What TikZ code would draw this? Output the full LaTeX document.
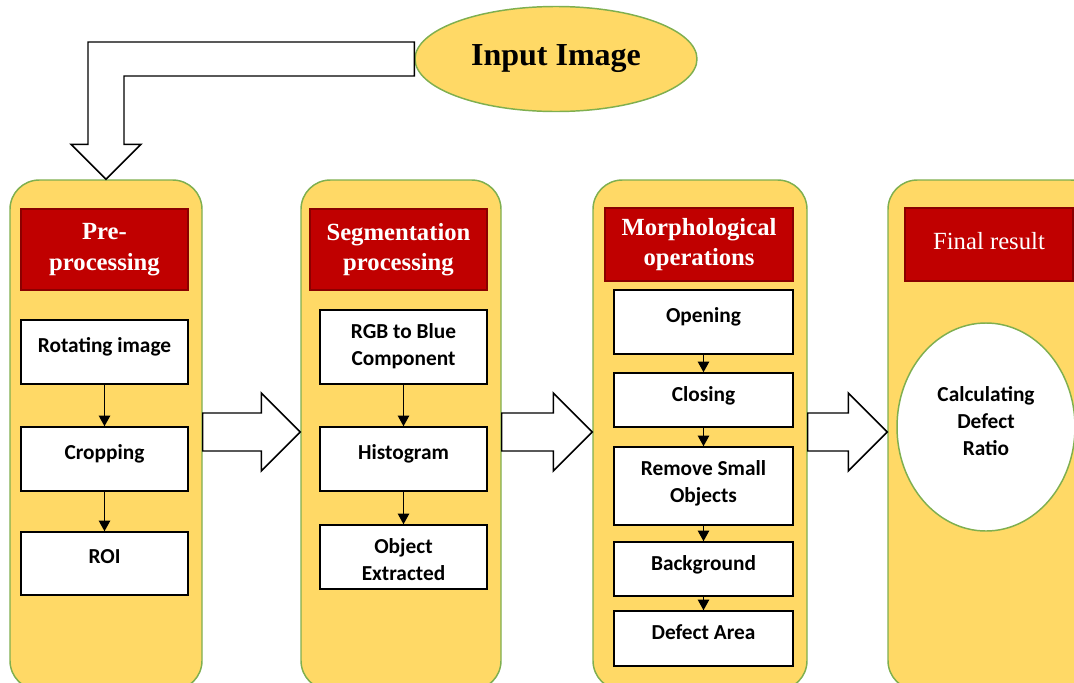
\documentclass[tikz,border=0pt]{standalone}
\usepackage{fontspec}
\setmainfont{Liberation Serif}
\newfontfamily\calib{Carlito}
\usetikzlibrary{calc,arrows.meta,shapes.geometric}
\definecolor{panelfill}{HTML}{FFD966}
\definecolor{panelline}{HTML}{7FAF4F}
\definecolor{headred}{HTML}{C00000}
\definecolor{headline}{HTML}{8A0000}

% hollow block arrow from the right side of one panel to the left side of the next
\newcommand\blockarrow[2]{%
  \draw[barrow] ($(#1.east)+(0,-22)$) -- ($(#2.west)+(-39,-22)$)
    -- ($(#2.west)+(-39,-42)$) -- ($(#2.west)+(0,-3)$)
    -- ($(#2.west)+(-39,36)$) -- ($(#2.west)+(-39,16)$)
    -- ($(#1.east)+(0,16)$) -- cycle;}

\begin{document}
\begin{tikzpicture}[x=0.75pt,y=-0.75pt,
  sz/.style 2 args={minimum width=#1*0.75pt, minimum height=#2*0.75pt, inner sep=0pt},
  panel/.style={draw=panelline, line width=1.1pt, fill=panelfill, rounded corners=22pt},
  header/.style={draw=headline, line width=0.8pt, fill=headred, text=white,
    font=\fontsize{18.5}{23}\selectfont\bfseries, align=center},
  stepbox/.style={draw=black, line width=1.1pt, fill=white},
  btxt/.style={anchor=north, inner sep=0pt, yshift=-10.5pt,
    font=\calib\bfseries\fontsize{16}{20.5}\selectfont, align=center},
  lowtxt/.style={btxt, yshift=-3pt},
  flow/.style={-{Triangle[width=8.5pt,length=8pt]}, line width=1.2pt},
  barrow/.style={draw=black, line width=1.1pt, fill=white, line join=miter},
]
\useasboundingbox (0,0) rectangle (1074,682);
\clip (0,0) rectangle (1074,682);

% panels
\node[panel, sz={192}{510}] (c1) at (106,435) {};
\node[panel, sz={200}{510}] (c2) at (401,435) {};
\node[panel, sz={214}{510}] (c3) at (700,435) {};
\node[panel, sz={212}{510}] (c4) at (994,435) {};

% panel headers
\node[header, sz={167}{81}] (h1) at (104.5,249.5) {Pre-\\processing};
\node[header, sz={177}{81}] (h2) at (398.5,249.5) {Segmentation\\processing};
\node[header, sz={188}{73}] (h3) at (699,244.5) {Morphological\\operations};
\node[header, sz={168}{73}, font=\fontsize{18.5}{23}\selectfont] (h4) at (989,244.5) {\raisebox{5pt}{Final result}};

% pre-processing steps
\node[stepbox, sz={167}{64}, label={[lowtxt]north:Rotating image}] (b11) at (104.5,352) {};
\node[stepbox, sz={167}{64}, label={[lowtxt]north:Cropping}] (b12) at (104.5,459) {};
\node[stepbox, sz={167}{63}, label={[lowtxt]north:ROI}] (b13) at (104.5,563.5) {};

% segmentation steps
\node[stepbox, sz={167}{74}, label={[btxt]north:RGB to Blue\\Component}] (b21) at (403.5,347) {};
\node[stepbox, sz={167}{64}, label={[lowtxt]north:Histogram}] (b22) at (403.5,459) {};
\node[stepbox, sz={167}{64}, label={[btxt]north:Object\\Extracted}] (b23) at (403.5,557) {};

% morphological steps
\node[stepbox, sz={179}{64}, label={[lowtxt]north:Opening}] (b31) at (703.5,322) {};
\node[stepbox, sz={179}{54}, label={[btxt]north:Closing}] (b32) at (703.5,400) {};
\node[stepbox, sz={179}{78}, label={[btxt]north:Remove Small\\Objects}] (b33) at (703.5,486) {};
\node[stepbox, sz={179}{54}, label={[btxt]north:Background}] (b34) at (703.5,569) {};
\node[stepbox, sz={179}{55}, label={[btxt]north:Defect Area}] (b35) at (703.5,638.5) {};

% final result
\node[ellipse, draw=panelline, line width=1.1pt, fill=white, sz={178}{208},
  label={[anchor=center, yshift=4.5pt, align=center,
    font=\calib\bfseries\fontsize{16}{20.5}\selectfont]center:Calculating\\Defect\\Ratio}]
  (e4) at (986,427) {};

% input
\node[ellipse, draw=panelline, line width=1.1pt, fill=panelfill, sz={282}{105},
  font=\bfseries\fontsize{24}{28}\selectfont] (inp) at (556,59) {\raisebox{5pt}{Input Image}};

% step connectors
\draw[flow] (b11) -- (b12);
\draw[flow] (b12) -- (b13);
\draw[flow] (b21) -- (b22);
\draw[flow] (b22) -- (b23);
\draw[flow] (b31) -- (b32);
\draw[flow] (b32) -- (b33);
\draw[flow] (b33) -- (b34);
\draw[flow] (b34) -- (b35);

% panel-to-panel arrows
\blockarrow{c1}{c2}
\blockarrow{c2}{c3}
\blockarrow{c3}{c4}

% bent arrow from the input down into the first panel
\coordinate (ti) at ($(inp.west)+(0,-17)$);
\coordinate (bi) at ($(inp.west)+(0,17)$);
\coordinate (hl) at ($(c1.north)+(-18,-35)$);
\coordinate (hr) at ($(c1.north)+(18,-35)$);
\draw[barrow] (ti) -- (ti -| hl) -- (hl) -- ($(hl)+(-17,0)$) -- (c1.north)
  -- ($(hr)+(17,0)$) -- (hr) -- (bi -| hr) -- (bi) -- cycle;
\end{tikzpicture}
\end{document}
